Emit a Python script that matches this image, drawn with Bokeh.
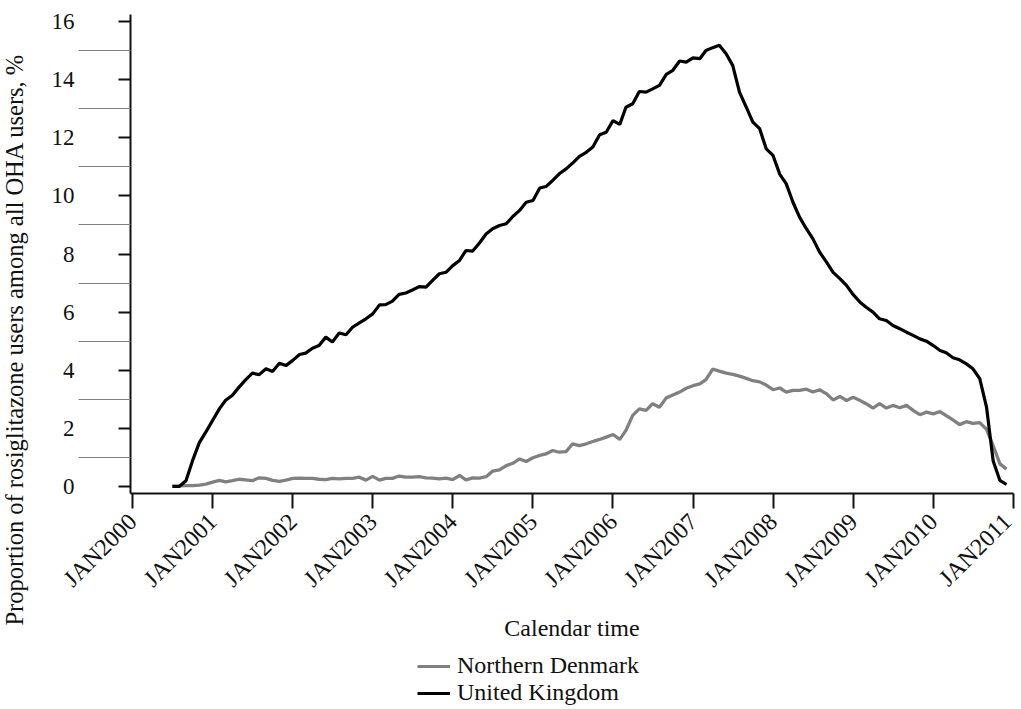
import numpy as np
import pandas as pd
from math import pi
from bokeh.plotting import figure
from bokeh.layouts import column, row
from bokeh.models import FixedTicker, Label, Legend, LegendItem, Range1d
from bokeh.embed import file_html
from bokeh.resources import INLINE

# ---------------- data (monthly, Jul 2000 - Dec 2010) ----------------
first_month = "2000-07-01"

uk = [0.0, 0.0, 0.2, 0.89, 1.51, 1.88,
      2.28, 2.68, 2.97, 3.14, 3.42, 3.68, 3.90, 3.85, 4.05, 3.96, 4.24, 4.16,
      4.34, 4.54, 4.59, 4.76, 4.85, 5.14, 4.97, 5.28, 5.22, 5.48, 5.63, 5.77,
      5.94, 6.25, 6.26, 6.38, 6.61, 6.66, 6.76, 6.88, 6.86, 7.09, 7.32, 7.37,
      7.60, 7.78, 8.12, 8.10, 8.37, 8.69, 8.87, 8.98, 9.04, 9.29, 9.50, 9.78,
      9.84, 10.27, 10.32, 10.53, 10.76, 10.93, 11.13, 11.36, 11.50, 11.68, 12.10, 12.19,
      12.59, 12.46, 13.05, 13.17, 13.59, 13.57, 13.68, 13.80, 14.18, 14.32, 14.64, 14.60,
      14.75, 14.72, 15.00, 15.10, 15.18, 14.89, 14.49, 13.57, 13.05, 12.54, 12.31, 11.62,
      11.39, 10.74, 10.42, 9.78, 9.27, 8.87, 8.52, 8.06, 7.72, 7.37, 7.15, 6.92,
      6.60, 6.34, 6.17, 6.00, 5.77, 5.71, 5.54, 5.43, 5.31, 5.20, 5.08, 5.00,
      4.85, 4.68, 4.60, 4.43, 4.36, 4.22, 4.05, 3.71, 2.73, 0.89, 0.21, 0.07]

dk = [0.02, 0.02, 0.03, 0.03, 0.05, 0.08,
      0.15, 0.21, 0.16, 0.20, 0.25, 0.23, 0.20, 0.30, 0.28, 0.21, 0.18, 0.22,
      0.28, 0.29, 0.28, 0.28, 0.25, 0.24, 0.28, 0.26, 0.28, 0.28, 0.32, 0.22,
      0.35, 0.22, 0.28, 0.28, 0.36, 0.32, 0.32, 0.34, 0.30, 0.29, 0.26, 0.29,
      0.24, 0.38, 0.23, 0.30, 0.29, 0.34, 0.53, 0.57, 0.72, 0.80, 0.95, 0.86,
      0.99, 1.07, 1.12, 1.24, 1.18, 1.20, 1.47, 1.41, 1.47, 1.55, 1.62, 1.70,
      1.79, 1.62, 1.93, 2.45, 2.67, 2.62, 2.85, 2.73, 3.05, 3.15, 3.25, 3.38,
      3.47, 3.53, 3.68, 4.04, 3.97, 3.90, 3.86, 3.80, 3.72, 3.64, 3.60, 3.49,
      3.33, 3.39, 3.25, 3.31, 3.31, 3.35, 3.25, 3.33, 3.19, 2.98, 3.10, 2.96,
      3.07, 2.96, 2.85, 2.70, 2.85, 2.70, 2.79, 2.71, 2.79, 2.62, 2.47, 2.56,
      2.50, 2.58, 2.44, 2.29, 2.13, 2.23, 2.17, 2.20, 1.97, 1.41, 0.78, 0.60]

years = list(range(2000, 2012))
year_labels = ["JAN%d" % y for y in years]
y_major = [0, 2, 4, 6, 8, 10, 12, 14, 16]
y_minor = [1, 3, 5, 7, 9, 11, 13, 15]

series_names = ["Northern Denmark", "United Kingdom"]
series_colors = ["#808080", "#000000"]

y_title = "Proportion of rosiglitazone users among all OHA users, %"
x_title = "Calendar time"

FONT = "Liberation Serif"
INK = "#111111"

# ---------------- main figure ----------------
months = pd.date_range(first_month, periods=len(uk), freq="MS")
year_ms = [pd.Timestamp(f"{y}-01-01").value / 1e6 for y in years]

x0 = pd.Timestamp("2000-01-01") - pd.Timedelta(days=9)
x1 = pd.Timestamp("2011-01-01") + pd.Timedelta(days=1)

p = figure(width=986, height=645, x_axis_type="datetime",
           x_range=Range1d(x0, x1), y_range=Range1d(-0.24, 16.24),
           output_backend="svg", toolbar_location=None,
           min_border_left=100, min_border_right=3,
           min_border_top=14, min_border_bottom=152)
p.outline_line_color = None
p.xgrid.visible = False
p.ygrid.visible = False

p.line(months, dk, line_color=series_colors[0], line_width=3.3)
p.line(months, uk, line_color=series_colors[1], line_width=3.2)

# x axis
xa = p.xaxis[0]
xa.ticker = FixedTicker(ticks=year_ms)
xa.major_label_overrides = {t: lab for t, lab in zip(year_ms, year_labels)}
xa.major_label_orientation = pi / 4
xa.major_tick_out = 15
xa.major_tick_in = 0
xa.minor_tick_line_color = None
xa.major_tick_line_width = 2
xa.axis_line_width = 2
xa.axis_line_color = INK
xa.major_tick_line_color = INK
xa.major_label_text_font = FONT
xa.major_label_text_font_size = "24px"
xa.major_label_text_color = INK
xa.major_label_standoff = 9
xa.axis_label = x_title
xa.axis_label_text_font = FONT
xa.axis_label_text_font_size = "24px"
xa.axis_label_text_font_style = "normal"
xa.axis_label_text_color = INK
xa.axis_label_standoff = 11

# y axis
ya = p.yaxis[0]
ya.ticker = FixedTicker(ticks=y_major, minor_ticks=y_minor)
ya.major_tick_out = 12
ya.major_tick_in = 0
ya.major_tick_line_width = 2
ya.major_tick_line_color = INK
ya.minor_tick_out = 52
ya.minor_tick_in = 0
ya.minor_tick_line_color = "#808080"
ya.minor_tick_line_width = 1
ya.axis_line_width = 2
ya.axis_line_color = INK
ya.major_label_text_font = FONT
ya.major_label_text_font_size = "23px"
ya.major_label_text_color = INK
ya.major_label_standoff = 4
ya.axis_label = None

# ---------------- y title strip ----------------
tfig = figure(width=30, height=709, x_range=Range1d(0, 1), y_range=Range1d(0, 1),
              x_axis_location=None, y_axis_location=None,
              output_backend="svg", toolbar_location=None,
              min_border_left=0, min_border_right=0, min_border_top=0, min_border_bottom=0)
tfig.grid.visible = False
tfig.outline_line_color = None
tfig.add_layout(Label(x=14, y=370, x_units="screen", y_units="screen", text=y_title,
                      angle=pi / 2, text_align="center", text_baseline="middle",
                      text_font=FONT, text_font_size="24.5px", text_color=INK))

# ---------------- legend strip ----------------
leg = figure(width=986, height=64, x_range=Range1d(0, 1), y_range=Range1d(0, 1),
             x_axis_location=None, y_axis_location=None,
             output_backend="svg", toolbar_location=None,
             min_border_left=0, min_border_right=0, min_border_top=0, min_border_bottom=0)
leg.grid.visible = False
leg.outline_line_color = None
lr = [leg.line([0, 1], [np.nan, np.nan], line_color=c, line_width=3) for c in series_colors]

legend = Legend(items=[LegendItem(label=n, renderers=[r]) for n, r in zip(series_names, lr)],
                location=(287, 3), glyph_width=33, glyph_height=24,
                label_height=24, label_standoff=7, padding=3, spacing=0,
                margin=0, border_line_color=None, background_fill_alpha=0,
                label_text_font=FONT, label_text_font_size="24px",
                label_text_color=INK)
leg.add_layout(legend)

layout = row(tfig, column(p, leg, spacing=0), spacing=0)
open("out.html", "w").write(file_html(layout, INLINE))
